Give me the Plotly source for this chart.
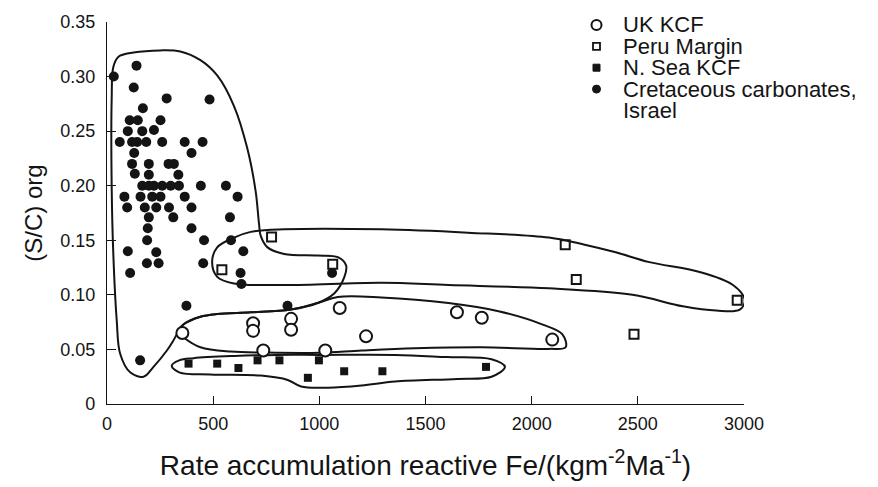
import plotly.graph_objects as go

W, H = 878, 487
ML, MR, MT, MB = 107, 134, 22, 78
FONT = "Liberation Sans, Arial, Helvetica, sans-serif"

# ---- axes ----
x_ticks = [0, 500, 1000, 1500, 2000, 2500, 3000]
x_tick_labels = ["0", "500", "1000", "1500", "2000", "2500", "3000"]
y_ticks = [0, 0.05, 0.10, 0.15, 0.20, 0.25, 0.30, 0.35]
y_tick_labels = ["0", "0.05", "0.10", "0.15", "0.20", "0.25", "0.30", "0.35"]

# ---- data ----
uk_x = [355, 688, 688, 736, 867, 867, 1096, 1028, 1220, 1648, 1765, 2097]
uk_y = [0.065, 0.074, 0.067, 0.049, 0.078, 0.068, 0.088, 0.049, 0.062, 0.084, 0.079, 0.059]

peru_x = [541, 775, 1063, 2158, 2210, 2968, 2482]
peru_y = [0.123, 0.153, 0.128, 0.146, 0.114, 0.095, 0.064]

nsea_x = [384, 519, 619, 709, 812, 946, 998, 1117, 1297, 1785]
nsea_y = [0.037, 0.037, 0.033, 0.040, 0.040, 0.024, 0.040, 0.030, 0.030, 0.034]

cret_x = [32, 139, 126, 281, 483, 169, 107, 145, 252, 98, 166, 221,
          60, 118, 142, 185, 260, 366, 450, 128, 398,
          118, 197, 290, 315, 131, 197, 336,
          166, 197, 221, 260, 300, 339, 442, 560,
          82, 158, 213, 252, 366, 615,
          95, 178, 232, 292, 398,
          197, 312, 579, 192, 398, 189, 457, 584,
          98, 232, 642, 109, 188, 243, 453, 629, 633, 1060,
          374, 850, 156]
cret_y = [0.300, 0.310, 0.290, 0.280, 0.279, 0.271, 0.260, 0.260, 0.260, 0.250, 0.250, 0.251,
          0.240, 0.240, 0.240, 0.240, 0.240, 0.240, 0.240, 0.230, 0.230,
          0.220, 0.220, 0.220, 0.220, 0.211, 0.210, 0.210,
          0.200, 0.200, 0.200, 0.200, 0.200, 0.200, 0.200, 0.200,
          0.190, 0.190, 0.190, 0.190, 0.190, 0.190,
          0.180, 0.180, 0.180, 0.180, 0.180,
          0.171, 0.171, 0.171, 0.161, 0.161, 0.150, 0.150, 0.150,
          0.140, 0.139, 0.140, 0.120, 0.129, 0.129, 0.129, 0.120, 0.110, 0.120,
          0.090, 0.090, 0.040]

# ---- hand-drawn envelopes (data coordinates) ----
cret_env_x = [22, 22, 30, 53, 125, 251, 345, 440, 519, 598, 661, 700, 716, 724, 756, 834,
              992, 1087, 1126, 1118, 1071, 992, 866, 677, 519, 440, 361, 335, 312, 282,
              219, 172, 109, 62, 46, 30, 22]
cret_env_y = [0.200, 0.279, 0.309, 0.318, 0.322, 0.324, 0.323, 0.315, 0.301, 0.273, 0.234,
              0.195, 0.165, 0.154, 0.1435, 0.1375, 0.136, 0.1345, 0.127, 0.1165, 0.1015,
              0.0925, 0.0865, 0.084, 0.0825, 0.080, 0.073, 0.066, 0.058, 0.049,
              0.034, 0.025, 0.029, 0.046, 0.076, 0.136, 0.200]

peru_env_x = [1292, 1700, 2081, 2250, 2396, 2554, 2791, 2948, 3003, 2980, 2869, 2712,
              2475, 2081, 1608, 1292, 834, 598, 519, 495, 519, 598, 677, 834, 1292]
peru_env_y = [0.160, 0.157, 0.1525, 0.146, 0.139, 0.130, 0.121, 0.109, 0.0955, 0.0865,
              0.0856, 0.0895, 0.100, 0.106, 0.109, 0.111, 0.109, 0.1105, 0.1165, 0.130,
              0.1435, 0.1525, 0.1577, 0.160, 0.160]

uk_env_x = [440, 519, 677, 866, 992, 1087, 1292, 1608, 1844, 2049, 2144, 2160, 2081,
            1765, 1450, 1200, 1000, 800, 582, 440, 361, 335, 361, 440]
uk_env_y = [0.080, 0.0825, 0.084, 0.0865, 0.0925, 0.098, 0.0976, 0.0925, 0.085, 0.073,
            0.064, 0.052, 0.0505, 0.052, 0.051, 0.049, 0.047, 0.047, 0.048, 0.052, 0.061,
            0.066, 0.073, 0.080]

nsea_env_x = [408, 600, 800, 1000, 1357, 1600, 1811, 1874, 1811, 1650, 1357, 1199,
              1041, 914, 851, 725, 487, 340, 305, 340, 408]
nsea_env_y = [0.042, 0.044, 0.045, 0.045, 0.045, 0.043, 0.041, 0.034, 0.025, 0.023,
              0.0206, 0.017, 0.015, 0.016, 0.022, 0.026, 0.027, 0.029, 0.035, 0.040, 0.042]

# ---- legend ----
legend_labels = ["UK KCF", "Peru Margin", "N. Sea KCF", "Cretaceous carbonates,", "Israel"]
legend_row_px = [25, 46.7, 68.3, 90, 111.7]

INK = "#141414"

fig = go.Figure()

for ex, ey in [(cret_env_x, cret_env_y), (peru_env_x, peru_env_y),
               (uk_env_x, uk_env_y), (nsea_env_x, nsea_env_y)]:
    fig.add_trace(go.Scatter(x=ex, y=ey, mode="lines",
                             line=dict(color=INK, width=2, shape="spline", smoothing=1.0),
                             hoverinfo="skip", showlegend=False))

fig.add_trace(go.Scatter(x=cret_x, y=cret_y, mode="markers", name="Cretaceous carbonates, Israel",
                         marker=dict(symbol="circle", size=10, color=INK, line=dict(width=0)),
                         showlegend=False))
fig.add_trace(go.Scatter(x=nsea_x, y=nsea_y, mode="markers", name="N. Sea KCF",
                         marker=dict(symbol="square", size=8, color=INK, line=dict(width=0)),
                         showlegend=False))
fig.add_trace(go.Scatter(x=peru_x, y=peru_y, mode="markers", name="Peru Margin",
                         marker=dict(symbol="square-open", size=9, color=INK, line=dict(width=2)),
                         showlegend=False))
fig.add_trace(go.Scatter(x=uk_x, y=uk_y, mode="markers", name="UK KCF",
                         marker=dict(symbol="circle", size=12, color="white",
                                     line=dict(width=2, color=INK)),
                         showlegend=False))

PW = W - ML - MR
PH = H - MT - MB


def px_x(p):
    return (p - ML) / PW


def px_y(p):
    return (H - MB - p) / PH


# legend symbols as shapes
sym_x = 596.5
shapes = [
    dict(type="circle", xref="paper", yref="paper", xsizemode="pixel", ysizemode="pixel",
         xanchor=px_x(sym_x), yanchor=px_y(legend_row_px[0]), x0=-5, x1=5, y0=-5, y1=5,
         line=dict(color=INK, width=2), fillcolor="white"),
    dict(type="rect", xref="paper", yref="paper", xsizemode="pixel", ysizemode="pixel",
         xanchor=px_x(sym_x), yanchor=px_y(legend_row_px[1]), x0=-3.5, x1=3.5, y0=-3.5, y1=3.5,
         line=dict(color=INK, width=1.8), fillcolor="white"),
    dict(type="rect", xref="paper", yref="paper", xsizemode="pixel", ysizemode="pixel",
         xanchor=px_x(sym_x), yanchor=px_y(legend_row_px[2]), x0=-3.5, x1=3.5, y0=-3.5, y1=3.5,
         line=dict(color=INK, width=1), fillcolor=INK),
    dict(type="circle", xref="paper", yref="paper", xsizemode="pixel", ysizemode="pixel",
         xanchor=px_x(sym_x), yanchor=px_y(legend_row_px[3]), x0=-4, x1=4, y0=-4, y1=4,
         line=dict(color=INK, width=1), fillcolor=INK),
]

annotations = []
for lab, ry in zip(legend_labels, legend_row_px):
    annotations.append(dict(text=lab, xref="paper", yref="paper", x=px_x(621), y=px_y(ry),
                            xanchor="left", yanchor="middle", showarrow=False,
                            font=dict(family=FONT, size=22, color=INK)))

fig.update_layout(
    width=W, height=H,
    margin=dict(l=ML, r=MR, t=MT, b=MB, pad=0),
    paper_bgcolor="white", plot_bgcolor="white",
    font=dict(family=FONT, color=INK, size=18),
    showlegend=False,
    shapes=shapes,
    annotations=annotations,
    xaxis=dict(range=[0, 3000], tickvals=x_ticks, ticktext=x_tick_labels,
               showline=True, linecolor=INK, linewidth=1.3, ticks="inside", ticklen=8,
               tickwidth=1.3, tickcolor=INK, showgrid=False, zeroline=False,
               ticklabelstandoff=3,
               tickfont=dict(size=18, family=FONT, color=INK),
               title=dict(text="Rate accumulation reactive Fe/(kgm<sup>-2</sup>Ma<sup>-1</sup>)",
                          font=dict(size=28, family=FONT, color=INK), standoff=22)),
    yaxis=dict(range=[0, 0.35], tickvals=y_ticks, ticktext=y_tick_labels,
               showline=True, linecolor=INK, linewidth=1.3, ticks="inside", ticklen=9,
               tickwidth=1.3, tickcolor=INK, showgrid=False, zeroline=False,
               ticklabelstandoff=7,
               tickfont=dict(size=18, family=FONT, color=INK),
               title=dict(text="(S/C) org", font=dict(size=24, family=FONT, color=INK), standoff=10)),
)

fig.write_html("out.html")
